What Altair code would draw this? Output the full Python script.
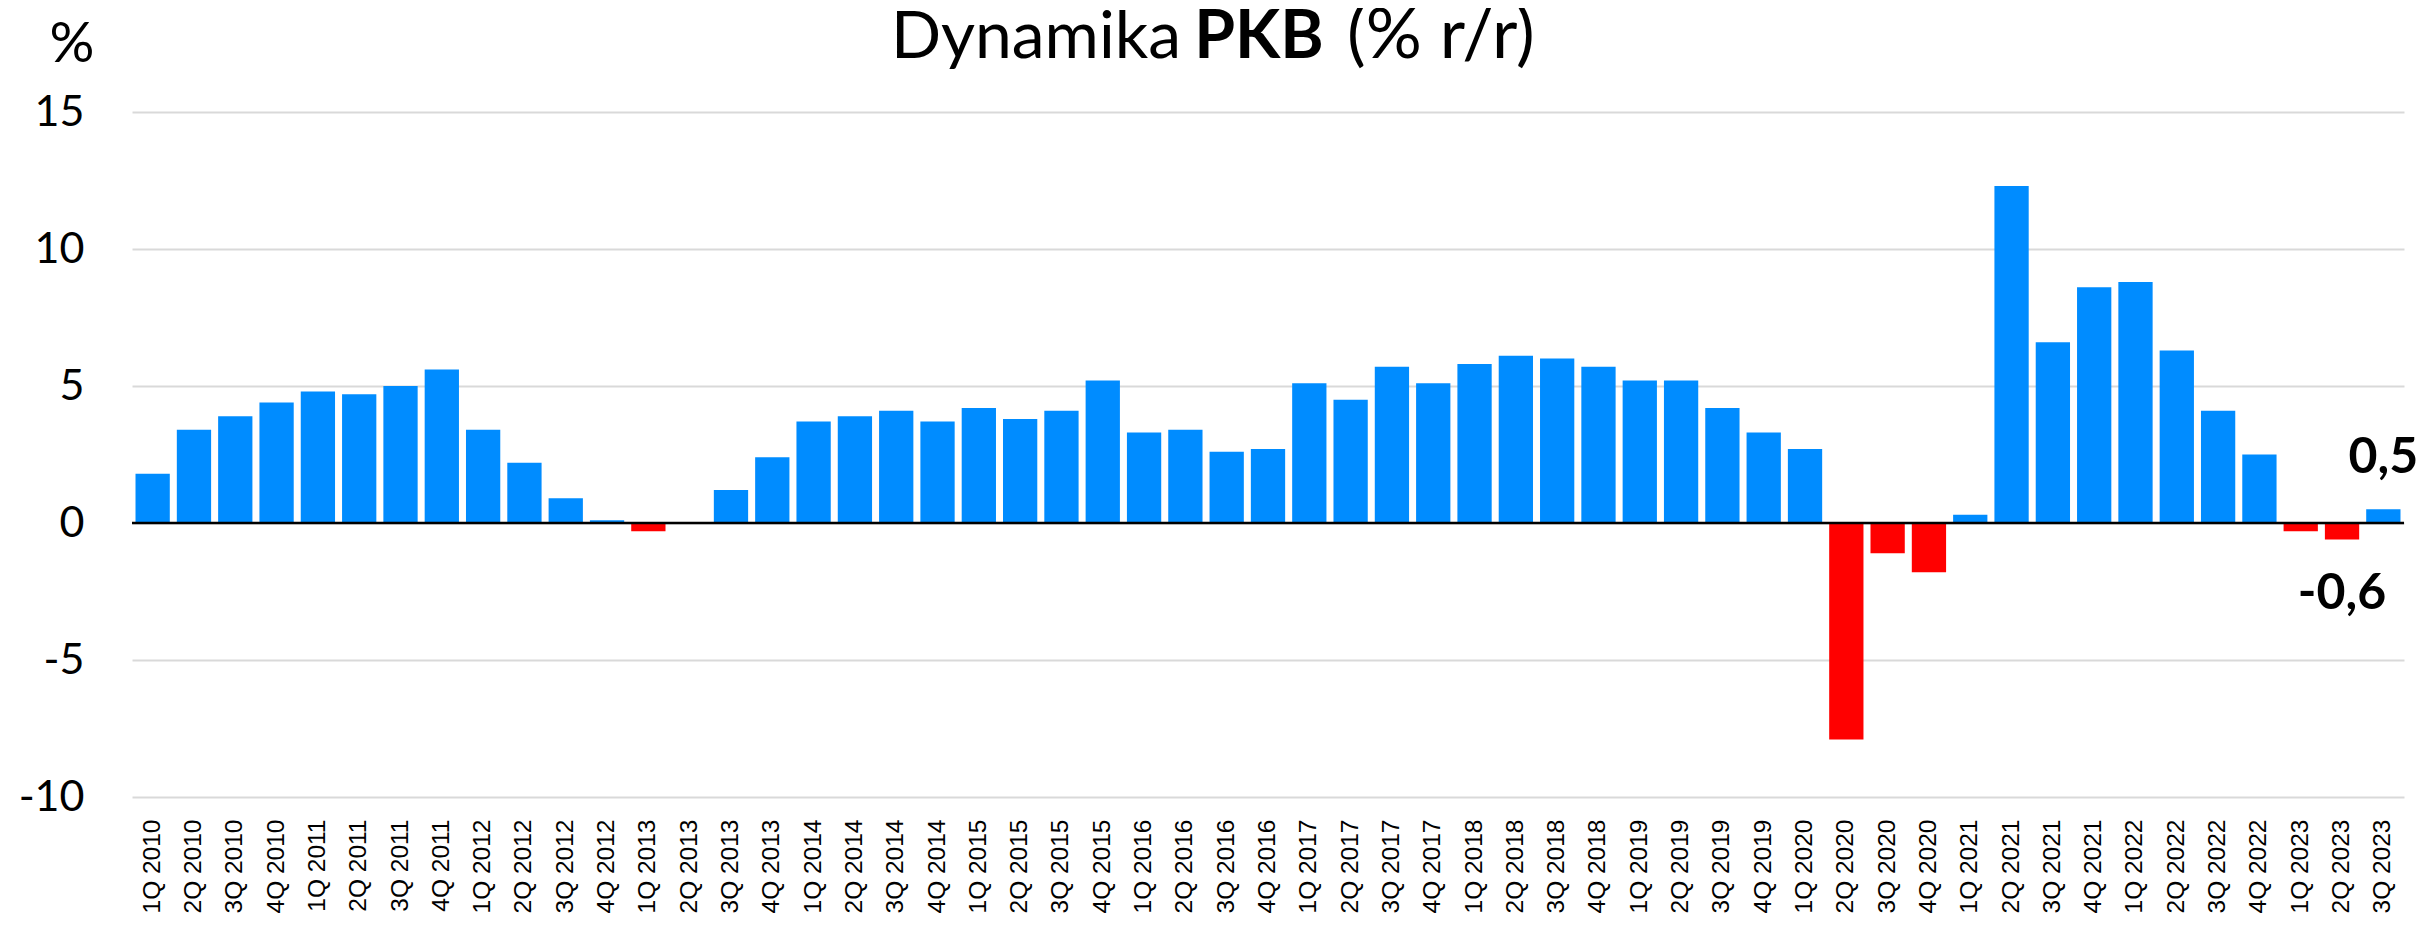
import altair as alt
import pandas as pd

# ---- data ----
years = [2010, 2011, 2012, 2013, 2014, 2015, 2016, 2017, 2018, 2019, 2020, 2021, 2022, 2023]
quarter_numbers = [1, 2, 3, 4]
gdp_values = [
    1.8, 3.4, 3.9, 4.4,
    4.8, 4.7, 5.0, 5.6,
    3.4, 2.2, 0.9, 0.1,
    -0.3, 0.0, 1.2, 2.4,
    3.7, 3.9, 4.1, 3.7,
    4.2, 3.8, 4.1, 5.2,
    3.3, 3.4, 2.6, 2.7,
    5.1, 4.5, 5.7, 5.1,
    5.8, 6.1, 6.0, 5.7,
    5.2, 5.2, 4.2, 3.3,
    2.7, -7.9, -1.1, -1.8,
    0.3, 12.3, 6.6, 8.6,
    8.8, 6.3, 4.1, 2.5,
    -0.3, -0.6, 0.5,
]
quarter_labels = [f"{q}Q {y}" for y in years for q in quarter_numbers][: len(gdp_values)]
y_ticks = [-10, -5, 0, 5, 10, 15]

pos_note_quarters = ["3Q 2023"]
pos_note_values = [0.5]
pos_note_texts = ["0,5"]
neg_note_quarters = ["2Q 2023"]
neg_note_values = [-0.6]
neg_note_texts = ["-0,6"]

title_parts = ["Dynamika", "PKB", "(% r/r)"]
unit_label = ["%"]

# ---- layout constants ----
PLOT_W = 2272
PLOT_H = 685
PAD_L = 124
PAD_T = 104
PLOT_TOP_PAGE = 111.7
PLOT_LEFT_PAGE = 132

df = pd.DataFrame({"q": quarter_labels, "v": gdp_values})

x_enc = alt.X(
    "q:N",
    sort=quarter_labels,
    scale=alt.Scale(paddingInner=0.17, paddingOuter=0.085),
    axis=alt.Axis(
        title=None,
        labelAngle=270,
        labelAlign="right",
        labelBaseline="middle",
        labelFont="Liberation Sans",
        labelFontSize=24.5,
        labelColor="black",
        labelPadding=22,
        labelOverlap=False,
        ticks=False,
        tickSize=0,
        domain=False,
        grid=False,
    ),
)
y_enc = alt.Y(
    "v:Q",
    scale=alt.Scale(domain=[-10, 15], nice=False, zero=False),
    axis=alt.Axis(
        title=None,
        values=y_ticks,
        labelExpr="'' + datum.value",
        labelFont="Lato",
        labelFontSize=43,
        labelColor="black",
        labelPadding=48,
        ticks=False,
        tickSize=0,
        domain=False,
        grid=True,
        gridColor="#D9D9D9",
        gridWidth=2,
    ),
)

bars = alt.Chart(df).mark_bar().encode(
    x=x_enc,
    y=y_enc,
    color=alt.condition(alt.datum.v < 0, alt.value("#FF0000"), alt.value("#008CFF")),
)

zero_rule = alt.Chart(pd.DataFrame({"z": [0]})).mark_rule(color="black", strokeWidth=2.5).encode(
    y=alt.Y("z:Q")
)

pos_df = pd.DataFrame({"q": pos_note_quarters, "v": pos_note_values, "t": pos_note_texts})
neg_df = pd.DataFrame({"q": neg_note_quarters, "v": neg_note_values, "t": neg_note_texts})

pos_notes = alt.Chart(pos_df).mark_text(
    font="Lato", fontWeight="bold", fontSize=50, align="center", baseline="alphabetic", dy=-36, color="black"
).encode(x=alt.X("q:N", sort=quarter_labels), y=alt.Y("v:Q"), text="t:N")

neg_notes = alt.Chart(neg_df).mark_text(
    font="Lato", fontWeight="bold", fontSize=50, align="center", baseline="alphabetic", dy=70, color="black"
).encode(x=alt.X("q:N", sort=quarter_labels), y=alt.Y("v:Q"), text="t:N")

# title pieces (page pixels)
title_x = [1036, 1259, 1347]
title_align = ["center", "center", "left"]
title_weights = ["normal", "bold", "normal"]
title_sizes = [66, 66, 70]
TITLE_BASELINE_PAGE = 58
title_layers = []
for txt, xp, al, wt, fs in zip(title_parts, title_x, title_align, title_weights, title_sizes):
    title_layers.append(
        alt.Chart(pd.DataFrame({"t": [txt]})).mark_text(
            font="Lato", fontSize=fs, fontWeight=wt, align=al, baseline="alphabetic", color="black"
        ).encode(
            text="t:N",
            x=alt.value(xp - PLOT_LEFT_PAGE),
            y=alt.value(TITLE_BASELINE_PAGE - PLOT_TOP_PAGE),
        )
    )

unit = alt.Chart(pd.DataFrame({"t": unit_label})).mark_text(
    font="Lato", fontSize=56, align="center", baseline="alphabetic", color="black"
).encode(text="t:N", x=alt.value(72 - PLOT_LEFT_PAGE), y=alt.value(62 - PLOT_TOP_PAGE))

chart = alt.layer(bars, zero_rule, pos_notes, neg_notes, unit, *title_layers).properties(
    width=PLOT_W,
    height=PLOT_H,
    autosize=alt.AutoSizeParams(type="none"),
    padding={"left": PAD_L, "top": PAD_T, "right": 20, "bottom": 124},
    background="white",
).configure_view(stroke=None)

chart.save("out.html", embed_options={"renderer": "svg", "actions": False})
